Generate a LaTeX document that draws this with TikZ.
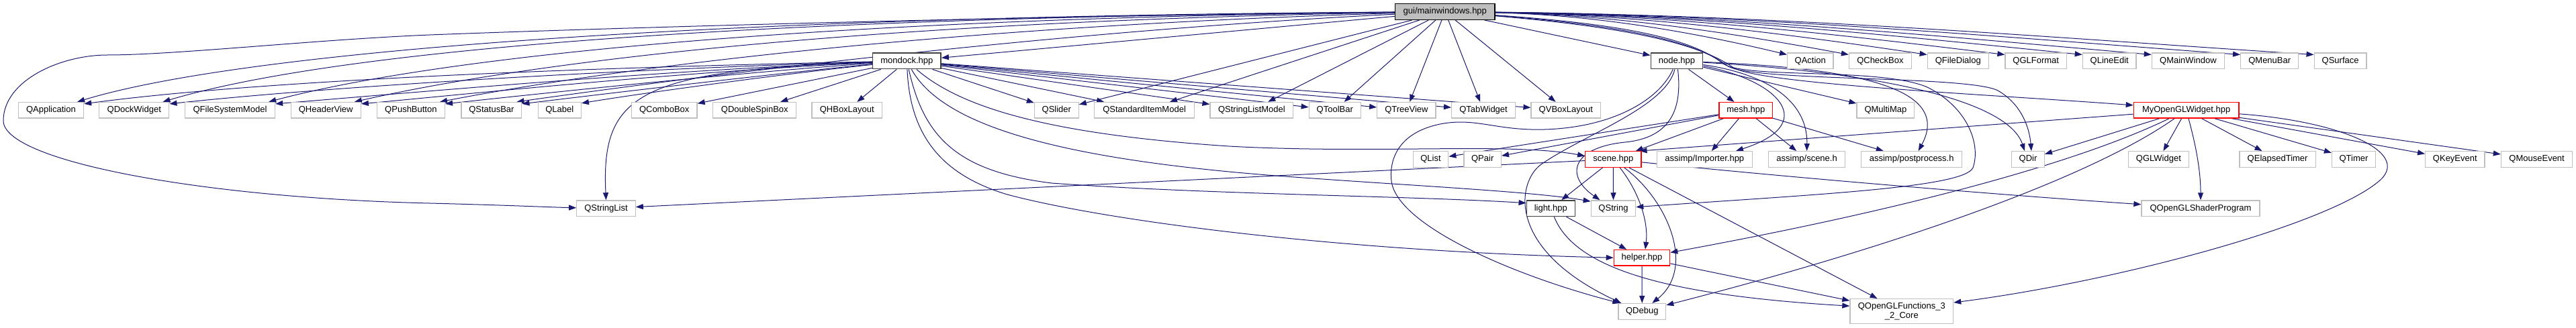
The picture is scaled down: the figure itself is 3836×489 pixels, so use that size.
\documentclass[tikz,border=0pt]{standalone}
\usepackage{fontspec}
\setmainfont{Liberation Sans}
\usetikzlibrary{arrows.meta}
\definecolor{eblue}{HTML}{191970}
\definecolor{lgray}{HTML}{BFBFBF}
\definecolor{dgray}{HTML}{404040}
\definecolor{mfill}{HTML}{BFBFBF}
\pgfdeclarelayer{edges}
\pgfsetlayers{edges,main}
\tikzset{
  box/.style={rectangle, fill=white, minimum height=23.6pt, inner sep=0pt, font=\fontsize{13}{15}\selectfont},
  gn/.style={box, draw=lgray, line width=1.3pt},
  bn/.style={box, draw=dgray, line width=1.5pt},
  rn/.style={box, draw=red, line width=1.2pt},
  mn/.style={box, draw=black, fill=mfill, line width=1.5pt},
  e/.style={draw=eblue, line width=1pt, -{Triangle[length=11pt,width=8pt]}}
}
\begin{document}
\begin{tikzpicture}[x=1pt,y=-1pt]
\useasboundingbox (0,0) rectangle (3836,489);
% row 0
\node[mn, minimum width=148.5pt] (M) at (2151.8,17.5) {gui/mainwindows.hpp};
% row 1
\node[bn, minimum width=101.6pt] (mondock) at (1350.4,90.9) {mondock.hpp};
\node[bn, minimum width=77.4pt] (node) at (2497,90.9) {node.hpp};
\node[gn, minimum width=68.3pt] (QAction) at (2695.8,90.9) {QAction};
\node[gn, minimum width=92.8pt] (QCheckBox) at (2799.9,90.9) {QCheckBox};
\node[gn, minimum width=91pt] (QFileDialog) at (2915.8,90.9) {QFileDialog};
\node[gn, minimum width=91.3pt] (QGLFormat) at (3031.7,90.9) {QGLFormat};
\node[gn, minimum width=79.7pt] (QLineEdit) at (3141.2,90.9) {QLineEdit};
\node[gn, minimum width=108pt] (QMainWindow) at (3258.4,90.9) {QMainWindow};
\node[gn, minimum width=86pt] (QMenuBar) at (3379.7,90.9) {QMenuBar};
\node[gn, minimum width=77.8pt] (QSurface) at (3485.1,90.9) {QSurface};
% row 2
\node[gn, minimum width=97.2pt] (QApp) at (75.9,164.3) {QApplication};
\node[gn, minimum width=104pt] (QDock) at (199.8,164.3) {QDockWidget};
\node[gn, minimum width=134pt] (QFSM) at (342.5,164.3) {QFileSystemModel};
\node[gn, minimum width=104pt] (QHeader) at (485.2,164.3) {QHeaderView};
\node[gn, minimum width=101pt] (QPush) at (611.9,164.3) {QPushButton};
\node[gn, minimum width=89.8pt] (QStatus) at (731.9,164.3) {QStatusBar};
\node[gn, minimum width=64pt] (QLabel) at (833.3,164.3) {QLabel};
\node[gn, minimum width=97.6pt] (QCombo) at (989.2,164.3) {QComboBox};
\node[gn, minimum width=124pt] (QDSB) at (1123.8,164.3) {QDoubleSpinBox};
\node[gn, minimum width=104.5pt] (QHBox) at (1261.3,164.3) {QHBoxLayout};
\node[gn, minimum width=65.8pt] (QSlider) at (1573.3,164.3) {QSlider};
\node[gn, minimum width=148.6pt] (QSIM) at (1704.1,164.3) {QStandardItemModel};
\node[gn, minimum width=123.7pt] (QSLM) at (1863.9,164.3) {QStringListModel};
\node[gn, minimum width=77pt] (QToolBar) at (1987.8,164.3) {QToolBar};
\node[gn, minimum width=87.3pt] (QTreeView) at (2094.4,164.3) {QTreeView};
\node[gn, minimum width=94.7pt] (QTab) at (2209,164.3) {QTabWidget};
\node[gn, minimum width=103.5pt] (QVBox) at (2331.8,164.3) {QVBoxLayout};
\node[rn, minimum width=79.5pt] (mesh) at (2599.8,164.3) {mesh.hpp};
\node[gn, minimum width=85.7pt] (QMultiMap) at (2807.9,164.3) {QMultiMap};
\node[rn, minimum width=156.6pt] (W) at (3255.6,164.3) {MyOpenGLWidget.hpp};
% row 3
\node[gn, minimum width=52.4pt] (QList) at (2130.5,237.5) {QList};
\node[gn, minimum width=55.3pt] (QPair) at (2207.7,237.5) {QPair};
\node[rn, minimum width=83.3pt] (scene) at (2402.3,237.5) {scene.hpp};
\node[gn, minimum width=142pt] (Importer) at (2538.3,237.5) {assimp/Importer.hpp};
\node[gn, minimum width=113.8pt] (sceneh) at (2690.6,237.5) {assimp/scene.h};
\node[gn, minimum width=150pt] (postp) at (2846.7,237.5) {assimp/postprocess.h};
\node[gn, minimum width=48.6pt] (QDir) at (3020,237.5) {QDir};
\node[gn, minimum width=90.2pt] (QGLWidget) at (3214.4,237.5) {QGLWidget};
\node[gn, minimum width=113.2pt] (QElapsed) at (3391.6,237.5) {QElapsedTimer};
\node[gn, minimum width=65pt] (QTimer) at (3505,237.5) {QTimer};
\node[gn, minimum width=88.3pt] (QKeyEvent) at (3655.8,237.5) {QKeyEvent};
\node[gn, minimum width=106.3pt] (QMouseEvent) at (3777.6,237.5) {QMouseEvent};
% row 4
\node[gn, minimum width=87.4pt] (QStringList) at (902.5,310.7) {QStringList};
\node[bn, minimum width=72pt] (light) at (2309.3,310.7) {light.hpp};
\node[gn, minimum width=66.4pt] (QString) at (2402.5,310.7) {QString};
\node[gn, minimum width=176pt] (QOGLSP) at (3277,310.7) {QOpenGLShaderProgram};
% row 5
\node[rn, minimum width=83.4pt] (helper) at (2445,384.2) {helper.hpp};
% row 6
\node[gn, minimum width=70.7pt] (QDebug) at (2445.3,464.4) {QDebug};
\node[gn, minimum width=153.7pt, minimum height=37pt, align=center, font=\fontsize{13}{13.5}\selectfont] (QOGLF) at (2831.8,464.2) {QOpenGLFunctions\_3\\\_2\_Core};

\begin{pgfonlayer}{edges}
% ---- mainwindows to the left
\draw[e] (M) .. controls (1500,24) and (900,42) .. (640,52) .. controls (470,59) and (260,82) .. (160,82) .. controls (90,82) and (5,120) .. (5,180) .. controls (5,240) and (300,295) .. (640,303) .. controls (760,306) and (820,309) .. (QStringList);
\draw[e] (M) .. controls (1000,25) and (350,80) .. ([xshift=-10pt]QApp.north east);
\draw[e] (M) .. controls (1100,26) and (500,75) .. ([xshift=-10pt]QDock.north east);
\draw[e] (M) .. controls (1200,28) and (650,85) .. ([xshift=-10pt]QFSM.north east);
\draw[e] (M) .. controls (1300,32) and (800,90) .. ([xshift=-10pt]QHeader.north east);
\draw[e] (M) .. controls (1450,38) and (950,95) .. ([xshift=-8pt]QPush.north east);
\draw[e] (M) .. controls (1600,45) and (1100,105) .. ([xshift=-8pt]QStatus.north east);
\draw[e] (M) -- (mondock);
\draw[e] (M) -- (QSlider);
\draw[e] (M) -- (QSIM);
\draw[e] (M) -- (QSLM);
\draw[e] (M) -- (QToolBar);
\draw[e] (M) -- (QTreeView);
\draw[e] (M) -- (QTab);
\draw[e] (M) -- (QVBox);
% ---- mainwindows to the right
\draw[e] (M) -- (node);
\draw[e] (M) .. controls (2378,22) and (2531,50) .. ([yshift=-3pt]QAction.north west);
\draw[e] (M) .. controls (2411,22) and (2595,52) .. ([yshift=-3pt]QCheckBox.north west);
\draw[e] (M) .. controls (2451,22) and (2677,53) .. ([yshift=-3pt]QFileDialog.north west);
\draw[e] (M) .. controls (2492,22) and (2758,54) .. ([yshift=-3pt]QGLFormat.north west);
\draw[e] (M) .. controls (2532,22) and (2839,55) .. ([yshift=-3pt]QLineEdit.north west);
\draw[e] (M) .. controls (2568,22) and (2911,56) .. ([yshift=-3pt]QMainWindow.north west);
\draw[e] (M) .. controls (2615,22) and (3003,57) .. ([yshift=-3pt]QMenuBar.north west);
\draw[e] (M) .. controls (2653,22) and (3080,58) .. ([yshift=-3pt]QSurface.north west);
\draw[e] (M) .. controls (2420,40) and (2530,65) .. (2580,100) .. controls (2615,125) and (2950,140) .. ([yshift=-5pt]W.north west);
\draw[e] (M) .. controls (2420,38) and (2525,62) .. (2572,98) .. controls (2605,122) and (2930,112) .. (2975,135) .. controls (3010,155) and (3022,190) .. ([xshift=5pt]QDir.north);
\draw[e] (M) .. controls (2420,36) and (2520,58) .. (2566,95) .. controls (2600,118) and (2800,100) .. (2870,130) .. controls (2930,160) and (2950,215) .. (2938,250) .. controls (2925,280) and (2700,290) .. ([yshift=2pt]QString.east);
% ---- mondock
\draw[e] (mondock) .. controls (900,100) and (400,118) .. ([yshift=-3pt]QApp.north east);
\draw[e] (mondock) .. controls (950,102) and (500,128) .. ([yshift=-3pt]QDock.north east);
\draw[e] (mondock) .. controls (1000,104) and (650,135) .. ([yshift=-3pt]QFSM.north east);
\draw[e] (mondock) .. controls (1000,108) and (700,140) .. ([yshift=-3pt]QHeader.north east);
\draw[e] (mondock) .. controls (1100,108) and (800,140) .. ([yshift=-3pt]QPush.north east);
\draw[e] (mondock) .. controls (1150,110) and (900,140) .. ([yshift=-3pt]QStatus.north east);
\draw[e] (mondock) .. controls (1150,112) and (950,140) .. ([yshift=-2pt]QLabel.north east);
\draw[e] (mondock) -- (QCombo);
\draw[e] (mondock) -- (QDSB);
\draw[e] (mondock) -- (QHBox);
\draw[e] (mondock) -- (QSlider);
\draw[e] (mondock) -- (QSIM);
\draw[e] (mondock) -- (QSLM);
\draw[e] (mondock) -- (QToolBar);
\draw[e] (mondock) -- (QTreeView);
\draw[e] (mondock) -- (QTab);
\draw[e] (mondock) -- (QVBox);
\draw[e] (mondock) .. controls (950,105) and (895,140) .. (QStringList.north);
\draw[e] (mondock) .. controls (1430,160) and (1560,200) .. (1830,218) .. controls (2050,230) and (2250,212) .. ([yshift=5pt]scene.west);
\draw[e] (mondock) .. controls (1400,180) and (1550,235) .. (1900,262) .. controls (2100,277) and (2280,285) .. ([yshift=-2pt]QString.north west);
\draw[e] (mondock) .. controls (1375,200) and (1420,255) .. (1566,273) .. controls (1800,290) and (2100,292) .. ([yshift=8pt]light.west);
\draw[e] (mondock) .. controls (1355,200) and (1400,260) .. (1500,290) .. controls (1650,330) and (2000,375) .. (helper.west);
% ---- node
\draw[e] (node) -- (mesh);
\draw[e] (node) -- (QMultiMap);
\draw[e] (node) .. controls (2650,120) and (2710,185) .. ([xshift=-25pt]Importer.north east);
\draw[e] (node) .. controls (2630,110) and (2692,150) .. (sceneh.north);
\draw[e] (node) .. controls (2780,102) and (2905,135) .. ([xshift=10pt]postp.north);
\draw[e] (node) .. controls (2800,108) and (2990,150) .. ([xshift=-5pt]QDir.north);
\draw[e] (node) .. controls (2505,160) and (2490,205) .. (2420,212) .. controls (2340,220) and (2330,262) .. ([xshift=-20pt]QString.north);
\draw[e] (node) .. controls (2470,150) and (2400,190) .. (2300,193) .. controls (2230,195) and (2200,176) .. (2150,184) .. controls (2085,195) and (2068,235) .. (2072,270) .. controls (2080,335) and (2250,410) .. ([xshift=3pt]QDebug.north west);
\draw[e] (node) .. controls (2480,160) and (2360,200) .. (2295,245) .. controls (2260,270) and (2240,370) .. ([xshift=5pt]QDebug.north west);
% ---- mesh
\draw[e] (mesh) -- (QList);
\draw[e] (mesh) -- (QPair);
\draw[e] (mesh) -- (scene);
\draw[e] (mesh) -- (Importer);
\draw[e] (mesh) -- (sceneh);
\draw[e] (mesh) -- (postp);
% ---- MyOpenGLWidget
\draw[e] (W) -- ([xshift=-3pt]scene.north east);
\draw[e] (W) -- (QDir);
\draw[e] (W) -- (QGLWidget);
\draw[e] (W) .. controls (3268,210) and (3277,250) .. (QOGLSP);
\draw[e] (W) -- (QElapsed);
\draw[e] (W) -- (QTimer);
\draw[e] (W) -- (QKeyEvent);
\draw[e] (W) -- (QMouseEvent);
\draw[e] (W) .. controls (3480,180) and (3590,225) .. (3545,268) .. controls (3470,335) and (3150,420) .. ([yshift=-6pt]QOGLF.north east);
\draw[e] (W) .. controls (3100,240) and (2850,310) .. (helper);
\draw[e] (W) .. controls (3120,260) and (2850,360) .. ([yshift=-3pt]QDebug.north east);
% ---- scene
\draw[e] (scene) -- (light);
\draw[e] (scene) -- (QString);
\draw[e] (scene) .. controls (2440,285) and (2455,330) .. ([xshift=5pt]helper.north);
\draw[e] (scene) .. controls (2485,300) and (2525,400) .. ([xshift=15pt]QDebug.north);
\draw[e] (scene) -- (QOGLF);
\draw[e] (scene) .. controls (2700,268) and (3000,292) .. (QOGLSP);
\draw[e] (scene) -- (QStringList);
% ---- light, helper
\draw[e] (light) -- (helper);
\draw[e] (light) .. controls (2345,400) and (2480,440) .. ([yshift=8pt]QOGLF.west);
\draw[e] (helper) -- (QDebug);
\draw[e] (helper) -- (QOGLF);
\end{pgfonlayer}
\end{tikzpicture}
\end{document}
